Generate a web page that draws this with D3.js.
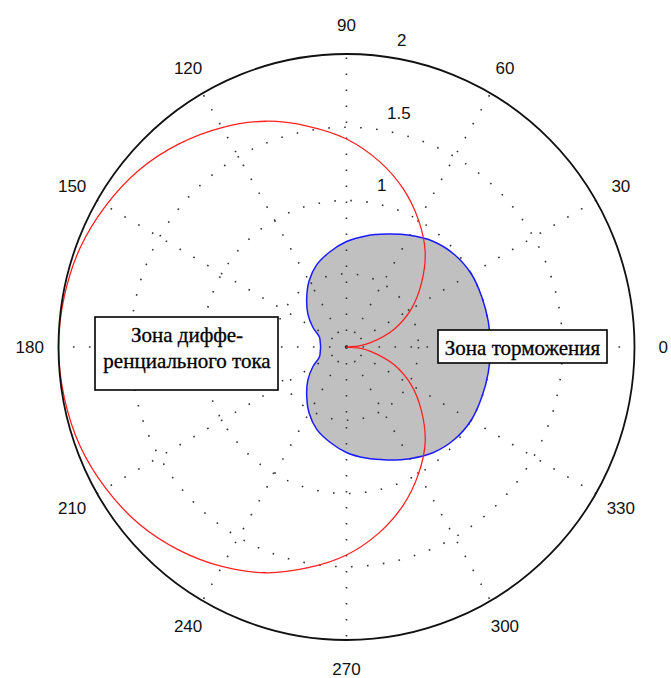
<!DOCTYPE html>
<html>
<head>
<meta charset="utf-8">
<script src="https://cdn.jsdelivr.net/npm/d3@7"></script>
<style>
body { margin: 0; background: #fff; }
</style>
</head>
<body>
<div class="polar"></div>
<script>
var angleTicks = [0, 30, 60, 90, 120, 150, 180, 210, 240, 270, 300, 330];
var ringValues = [0.5, 1, 1.5];
var ringLabels = [1, 1.5, 2];
var rMax = 2;

// differential current zone boundary (red)
var diffAngles = [0, 5, 10, 20, 30, 40, 50, 60, 70, 80, 90, 100, 110, 120, 130, 140, 150, 160, 170, 180,
  190, 200, 210, 220, 230, 240, 250, 260, 270, 280, 290, 300, 310, 320, 330, 340, 350, 355];
var diffRadius = [0, 0.09, 0.17, 0.35, 0.52, 0.68, 0.85, 1.00, 1.15, 1.29, 1.42, 1.53, 1.64, 1.73, 1.81, 1.88, 1.93, 1.97, 1.99, 2.00,
  1.99, 1.97, 1.93, 1.88, 1.81, 1.73, 1.64, 1.53, 1.42, 1.29, 1.15, 1.00, 0.85, 0.68, 0.52, 0.35, 0.17, 0.09];

// restraint zone boundary (blue, filled)
var brakeAngles = [0, 10, 20, 30, 40, 50, 60, 70, 80, 90, 100, 110, 120, 130, 140, 150, 160, 170, 180,
  190, 200, 210, 220, 230, 240, 250, 260, 270, 280, 290, 300, 310, 320, 330, 340, 350];
var brakeRadius = [1.00, 1.00, 1.00, 1.00, 0.98, 0.94, 0.88, 0.82, 0.77, 0.72, 0.66, 0.60, 0.52, 0.43, 0.35, 0.27, 0.20, 0.185, 0.18,
  0.185, 0.20, 0.27, 0.35, 0.43, 0.52, 0.60, 0.66, 0.72, 0.77, 0.82, 0.88, 0.94, 0.98, 1.00, 1.00, 1.00];

var diffLabel = ['Зона диффе-', 'ренциального тока'];
var brakeLabel = 'Зона торможения';

var W = 671, H = 678;
var cx = 346.5, cy = 347, rx = 288, ry = 293;

var svg = d3.select(".polar")
    .append("svg")
    .attr("width", W)
    .attr("height", H);

var x = d3.scaleLinear().domain([-rMax, rMax]).range([cx - rx, cx + rx]);
var y = d3.scaleLinear().domain([-rMax, rMax]).range([cy + ry, cy - ry]);

var rad = function (a) { return a * Math.PI / 180; };

function pts(angles, radii) {
  return angles.map(function (a, i) {
    return [x(radii[i] * Math.cos(rad(a))), y(radii[i] * Math.sin(rad(a)))];
  });
}

var loopLine = d3.line().curve(d3.curveCatmullRomClosed.alpha(0.5));

// grey restraint zone
svg.append("path")
    .attr("d", loopLine(pts(brakeAngles, brakeRadius)))
    .attr("fill", "#c0c0c0")
    .attr("stroke", "none");

// dotted grid
var dots = "1.6 14.4";
svg.selectAll("ellipse.ring")
    .data(ringValues)
    .enter()
    .append("ellipse")
    .attr("class", "ring")
    .attr("cx", x(0))
    .attr("cy", y(0))
    .attr("rx", function (d) { return x(d) - x(0); })
    .attr("ry", function (d) { return y(0) - y(d); })
    .attr("fill", "none")
    .attr("stroke", "#333")
    .attr("stroke-width", 1.6)
    .attr("stroke-dasharray", dots);

svg.selectAll("line.spoke")
    .data(angleTicks)
    .enter()
    .append("line")
    .attr("class", "spoke")
    .attr("x1", x(0))
    .attr("y1", y(0))
    .attr("x2", function (d) { return x(rMax * Math.cos(rad(d))); })
    .attr("y2", function (d) { return y(rMax * Math.sin(rad(d))); })
    .attr("stroke", "#333")
    .attr("stroke-width", 1.6)
    .attr("stroke-dasharray", dots);

// curves
svg.append("path")
    .attr("d", loopLine(pts(brakeAngles, brakeRadius)))
    .attr("fill", "none")
    .attr("stroke", "#1a1aff")
    .attr("stroke-width", 1.5);

svg.append("path")
    .attr("d", loopLine(pts(diffAngles, diffRadius)))
    .attr("fill", "none")
    .attr("stroke", "#ff2020")
    .attr("stroke-width", 1.3);

// outer circle
svg.append("ellipse")
    .attr("cx", x(0))
    .attr("cy", y(0))
    .attr("rx", x(rMax) - x(0))
    .attr("ry", y(0) - y(rMax))
    .attr("fill", "none")
    .attr("stroke", "#111")
    .attr("stroke-width", 1.8);

// angle labels
svg.selectAll("text.ang")
    .data(angleTicks)
    .enter()
    .append("text")
    .attr("class", "ang")
    .attr("x", function (d) { return x(1.1 * rMax * Math.cos(rad(d))); })
    .attr("y", function (d) { return y(1.1 * rMax * Math.sin(rad(d))); })
    .attr("dy", "0.35em")
    .attr("text-anchor", "middle")
    .style("font-family", "'Liberation Sans', Arial, sans-serif")
    .style("font-size", "17px")
    .attr("fill", "#111")
    .text(function (d) { return d; });

// radius labels at 82 degrees
svg.selectAll("text.rlab")
    .data(ringLabels)
    .enter()
    .append("text")
    .attr("class", "rlab")
    .attr("x", function (d) { return x((d + 0.025) * Math.cos(rad(82))) + 10; })
    .attr("y", function (d) { return y((d + 0.025) * Math.sin(rad(82))) - 7; })
    .style("font-family", "'Liberation Sans', Arial, sans-serif")
    .style("font-size", "17px")
    .attr("fill", "#111")
    .text(function (d) { return d; });

// annotation boxes
var serif = "'Liberation Serif', 'Times New Roman', serif";

var g1 = svg.append("g");
g1.append("rect")
    .attr("x", 95).attr("y", 317)
    .attr("width", 183).attr("height", 73)
    .attr("fill", "#fff")
    .attr("stroke", "#000")
    .attr("stroke-width", 1.6);
g1.selectAll("text")
    .data(diffLabel)
    .enter()
    .append("text")
    .attr("x", 187)
    .attr("y", function (d, i) { return 342 + i * 26; })
    .attr("text-anchor", "middle")
    .style("font-family", serif)
    .style("font-size", "21px")
    .attr("fill", "#000")
    .attr("stroke", "#000")
    .attr("stroke-width", 0.3)
    .text(function (d) { return d; });

var g2 = svg.append("g");
g2.append("rect")
    .attr("x", 438).attr("y", 330)
    .attr("width", 169).attr("height", 33)
    .attr("fill", "#fff")
    .attr("stroke", "#000")
    .attr("stroke-width", 1.6);
g2.append("text")
    .attr("x", 522.5)
    .attr("y", 355)
    .attr("text-anchor", "middle")
    .style("font-family", serif)
    .style("font-size", "21px")
    .attr("fill", "#000")
    .attr("stroke", "#000")
    .attr("stroke-width", 0.3)
    .text(brakeLabel);
</script>
</body>
</html>
